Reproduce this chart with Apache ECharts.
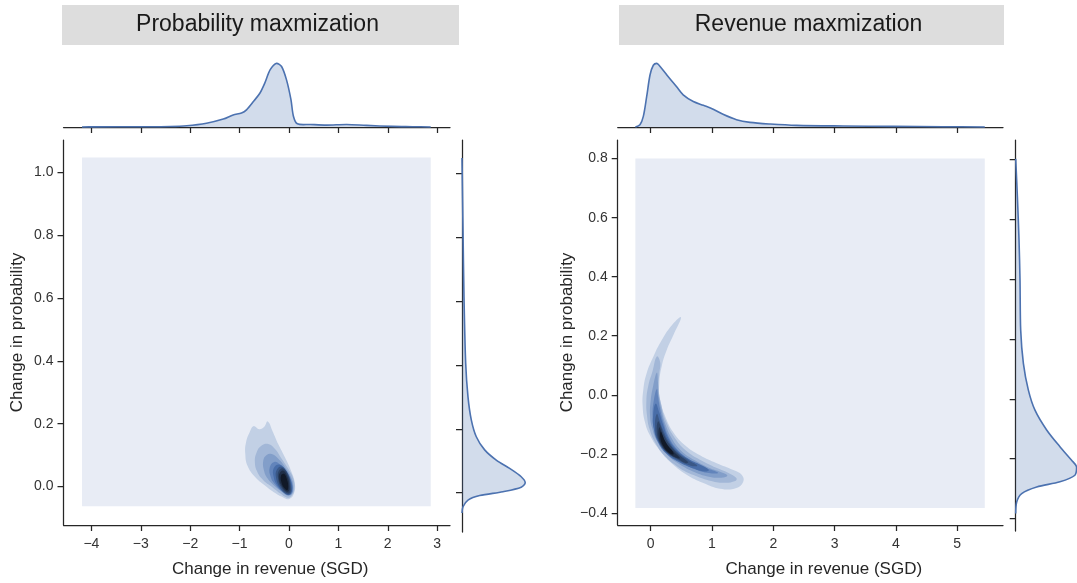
<!DOCTYPE html>
<html><head><meta charset="utf-8">
<script src="https://cdn.jsdelivr.net/npm/echarts@6/dist/echarts.min.js"></script>
<style>html,body{margin:0;padding:0;background:#fff}#c{width:1077px;height:583px}</style>
</head><body><div id="c"></div>
<script>
// ---------- text ----------
const panelTitles = ['Probability maxmization', 'Revenue maxmization'];
const xAxisTitle = 'Change in revenue (SGD)';
const yAxisTitle = 'Change in probability';

// ---------- ticks / axis limits ----------
const probXTicks = [-4, -3, -2, -1, 0, 1, 2, 3];
const probYTicks = [0, 0.2, 0.4, 0.6, 0.8, 1.0];
const revXTicks = [0, 1, 2, 3, 4, 5];
const revYTicks = [-0.4, -0.2, 0, 0.2, 0.4, 0.6, 0.8];
const probXRange = [-4.565, 3.26];
const probYRange = [-0.123, 1.104];
const revXRange = [-0.538, 5.747];
const revYRange = [-0.441, 0.863];

// ---------- KDE grid extent (lowest filled level) ----------
const probGridExtent = [[-4.19, -0.0635], [2.87, 1.048]];
const revGridExtent = [[-0.25, -0.383], [5.45, 0.80]];

// ---------- marginal KDEs ----------
// [revenue change, density]
const probRevenueKde = [[-4.19,0],[-3.94,0.002],[-3.0,0.004],[-2.4,0.008],[-2.07,0.02],[-1.67,0.06],[-1.33,0.125],[-1.13,0.19],[-0.96,0.22],[-0.86,0.27],[-0.72,0.40],[-0.59,0.53],[-0.49,0.69],[-0.38,0.90],[-0.25,1.0],[-0.15,0.95],[-0.05,0.74],[0.04,0.43],[0.09,0.17],[0.17,0.05],[0.43,0.04],[0.76,0.03],[1.17,0.04],[1.57,0.025],[2.1,0.01],[2.5,0.005],[2.87,0]];
const revRevenueKde = [[-0.25,0],[-0.175,0.036],[-0.12,0.167],[-0.065,0.48],[-0.01,0.82],[0.043,0.97],[0.098,1.0],[0.18,0.92],[0.287,0.79],[0.42,0.635],[0.53,0.505],[0.695,0.40],[0.86,0.34],[1.02,0.28],[1.18,0.20],[1.40,0.115],[1.62,0.073],[1.95,0.047],[2.38,0.026],[3.14,0.016],[3.96,0.01],[4.77,0.005],[5.45,0]];
// [probability change, density]
const probProbKde = [[1.048,0],[0.822,0.016],[0.613,0.032],[0.405,0.059],[0.30,0.096],[0.228,0.149],[0.175,0.229],[0.134,0.363],[0.102,0.549],[0.076,0.763],[0.050,0.949],[0.031,1.013],[0.017,0.949],[0.003,0.656],[-0.009,0.283],[-0.023,0.096],[-0.044,0.016],[-0.0635,0]];
const revProbKde = [[0.80,0],[0.674,0.027],[0.53,0.053],[0.396,0.069],[0.229,0.08],[0.118,0.123],[0.029,0.203],[-0.038,0.309],[-0.104,0.496],[-0.16,0.709],[-0.205,0.896],[-0.227,0.976],[-0.255,0.949],[-0.277,0.709],[-0.294,0.336],[-0.316,0.096],[-0.344,0.016],[-0.383,0]];

// ---------- bivariate KDE contour levels (outer -> inner), [revenue, probability] ----------
const probContours = [
  [[-0.72,0.192],[-0.6,0.182],[-0.5,0.19],[-0.43,0.207],[-0.33,0.175],[-0.216,0.134],[-0.08,0.092],[0.054,0.045],[0.12,0.008],[0.10,-0.023],[0.006,-0.04],[-0.115,-0.035],[-0.28,-0.021],[-0.486,0.003],[-0.69,0.031],[-0.84,0.066],[-0.885,0.105],[-0.87,0.14],[-0.79,0.175]],
  [[-0.654,0.109],[-0.553,0.130],[-0.419,0.135],[-0.283,0.119],[-0.148,0.088],[-0.014,0.056],[0.087,0.025],[0.107,-0.011],[0.04,-0.032],[-0.047,-0.035],[-0.18,-0.022],[-0.35,-0.001],[-0.52,0.02],[-0.64,0.046],[-0.69,0.077]],
  [[-0.52,0.0825],[-0.452,0.100],[-0.351,0.103],[-0.216,0.088],[-0.081,0.062],[0.040,0.030],[0.088,-0.001],[0.054,-0.025],[-0.034,-0.029],[-0.148,-0.017],[-0.297,0.002],[-0.432,0.025],[-0.506,0.051]],
  [[-0.39,0.06],[-0.3,0.078],[-0.18,0.07],[-0.05,0.048],[0.06,0.012],[0.07,-0.018],[-0.01,-0.028],[-0.14,-0.016],[-0.28,0.006],[-0.37,0.03]],
  [[-0.31,0.058],[-0.2,0.07],[-0.08,0.055],[0.04,0.018],[0.06,-0.014],[0.0,-0.027],[-0.12,-0.016],[-0.24,0.004],[-0.31,0.03]],
  [[-0.25,0.052],[-0.15,0.063],[-0.03,0.043],[0.045,0.004],[0.035,-0.022],[-0.06,-0.024],[-0.18,-0.005],[-0.26,0.026]],
  [[-0.21,0.048],[-0.12,0.057],[-0.02,0.036],[0.03,0.0],[0.015,-0.02],[-0.06,-0.02],[-0.16,-0.002],[-0.22,0.024]],
  [[-0.19,0.042],[-0.11,0.05],[-0.03,0.03],[0.01,0.0],[-0.01,-0.016],[-0.08,-0.013],[-0.16,0.005],[-0.2,0.022]],
  [[-0.16,0.035],[-0.1,0.04],[-0.04,0.022],[-0.015,0.0],[-0.035,-0.012],[-0.09,-0.006],[-0.15,0.012]]
];
const revContours = [
  [[0.494,0.263],[0.342,0.235],[0.179,0.185],[0.043,0.129],[-0.066,0.073],[-0.120,0.018],[-0.131,-0.038],[-0.093,-0.093],[-0.011,-0.138],[0.125,-0.182],[0.315,-0.227],[0.587,-0.271],[0.859,-0.299],[1.13,-0.318],[1.40,-0.316],[1.511,-0.294],[1.484,-0.271],[1.348,-0.255],[1.076,-0.232],[0.804,-0.205],[0.559,-0.171],[0.369,-0.127],[0.233,-0.071],[0.152,-0.015],[0.141,0.040],[0.179,0.096],[0.260,0.151],[0.380,0.207]],
  [[0.10,0.13],[0.03,0.08],[-0.04,0.03],[-0.07,-0.02],[-0.06,-0.07],[-0.02,-0.115],[0.07,-0.16],[0.22,-0.205],[0.45,-0.245],[0.7,-0.272],[0.95,-0.29],[1.2,-0.298],[1.38,-0.292],[1.40,-0.283],[1.3,-0.268],[1.1,-0.25],[0.85,-0.225],[0.6,-0.193],[0.4,-0.148],[0.25,-0.09],[0.17,-0.03],[0.13,0.02],[0.14,0.07],[0.155,0.11]],
  [[0.1,0.075],[0.04,0.03],[0.0,-0.02],[-0.01,-0.07],[0.02,-0.11],[0.1,-0.155],[0.25,-0.2],[0.47,-0.235],[0.72,-0.262],[0.97,-0.278],[1.18,-0.28],[1.25,-0.273],[1.15,-0.262],[0.95,-0.247],[0.72,-0.222],[0.5,-0.19],[0.35,-0.15],[0.24,-0.1],[0.17,-0.045],[0.13,0.0],[0.12,0.04]],
  [[0.1,0.02],[0.05,-0.02],[0.03,-0.07],[0.05,-0.11],[0.12,-0.15],[0.26,-0.192],[0.47,-0.225],[0.72,-0.252],[0.95,-0.265],[1.1,-0.265],[1.0,-0.255],[0.8,-0.24],[0.6,-0.215],[0.42,-0.182],[0.3,-0.145],[0.21,-0.095],[0.15,-0.045],[0.12,-0.005]],
  [[0.08,-0.03],[0.04,-0.07],[0.05,-0.115],[0.12,-0.16],[0.26,-0.2],[0.46,-0.228],[0.7,-0.25],[0.88,-0.26],[0.95,-0.255],[0.82,-0.238],[0.6,-0.215],[0.42,-0.185],[0.29,-0.148],[0.2,-0.1],[0.14,-0.06]],
  [[0.1,-0.065],[0.07,-0.105],[0.11,-0.15],[0.24,-0.19],[0.45,-0.222],[0.65,-0.24],[0.76,-0.24],[0.62,-0.222],[0.44,-0.195],[0.3,-0.16],[0.2,-0.118],[0.14,-0.085]],
  [[0.12,-0.09],[0.1,-0.125],[0.15,-0.163],[0.27,-0.196],[0.45,-0.218],[0.58,-0.232],[0.61,-0.228],[0.47,-0.205],[0.32,-0.172],[0.22,-0.138],[0.16,-0.105]],
  [[0.14,-0.11],[0.13,-0.14],[0.18,-0.17],[0.29,-0.197],[0.43,-0.214],[0.48,-0.215],[0.41,-0.2],[0.3,-0.176],[0.21,-0.147],[0.17,-0.122]],
  [[0.16,-0.125],[0.16,-0.15],[0.21,-0.175],[0.3,-0.196],[0.37,-0.202],[0.36,-0.192],[0.3,-0.178],[0.23,-0.155],[0.19,-0.135]]
];

// ---------- styles ----------
const levelColors = ['#E8ECF5','#C2D0E5','#A2B7D7','#829EC9','#6284BB','#486DA8','#3A5887','#2C4367','#1F2E47','#111927'];
const lineColor = '#4C72B0';
const fillColor = 'rgba(76,114,176,0.25)';
const spineColor = '#262626';
const FONT = '"Liberation Sans", Arial, sans-serif';

const fmtTick = (dec) => (v) => {
  const s = Math.abs(v).toFixed(dec);
  return (v < -1e-9 ? '\u2212' : '') + s;
};

const chart = echarts.init(document.getElementById('c'), null, {renderer: 'canvas'});

// marginal panel depth is 78px; the right-most one is cut by the page edge
const L = {
  p: {main: {left: 63.5, top: 140, width: 386.5, height: 392}, topM: {left: 63.5, top: 49, width: 386.5, height: 78}, rightM: {left: 462, top: 140, width: 78, height: 392}},
  r: {main: {left: 617.7, top: 140, width: 385.3, height: 391}, topM: {left: 617.7, top: 49, width: 385.3, height: 78}, rightM: {left: 1015.7, top: 140, width: 61.3, height: 391}}
};
const grids = [L.p.main, L.p.topM, L.p.rightM, L.r.main, L.r.topM, L.r.rightM];

const spine = {show: true, onZero: false, lineStyle: {color: spineColor, width: 1.25}};
function tick(values) { return {show: true, length: 6, inside: false, customValues: values, lineStyle: {color: spineColor, width: 1.25}}; }

function mainX(grid, range, ticks, dec) {
  return {type: 'value', gridIndex: grid, min: range[0], max: range[1], axisLine: spine, axisTick: tick(ticks),
    axisLabel: {show: true, customValues: ticks, formatter: fmtTick(dec), color: '#333', fontSize: 14, fontFamily: FONT, margin: 12},
    splitLine: {show: false}, name: xAxisTitle, nameLocation: 'middle', nameGap: 36,
    nameTextStyle: {color: '#262626', fontSize: 17, fontFamily: FONT, padding: [0, 0, 0, 27]}};
}
function mainY(grid, range, ticks, dec) {
  return {type: 'value', gridIndex: grid, min: range[0], max: range[1], axisLine: spine, axisTick: tick(ticks),
    axisLabel: {show: true, customValues: ticks, formatter: fmtTick(dec), color: '#333', fontSize: 14, fontFamily: FONT, margin: 10},
    splitLine: {show: false}, name: yAxisTitle, nameLocation: 'middle', nameGap: 38,
    nameTextStyle: {color: '#262626', fontSize: 17, fontFamily: FONT}};
}
function margAxis(grid, range, ticks) {
  return {type: 'value', gridIndex: grid, min: range[0], max: range[1], axisLine: spine, axisTick: tick(ticks),
    axisLabel: {show: false}, splitLine: {show: false}};
}
function hidden(grid, min, max) {
  return {type: 'value', gridIndex: grid, min: min, max: max, show: false};
}

const xAxes = [
  mainX(0, probXRange, probXTicks, 0),
  margAxis(1, probXRange, probXTicks),
  hidden(2, 0, 1.25),
  mainX(3, revXRange, revXTicks, 0),
  margAxis(4, revXRange, revXTicks),
  hidden(5, 0, 1.25 * 61.3 / 78)
];
const yAxes = [
  mainY(0, probYRange, probYTicks, 1),
  hidden(1, 0, 1.225),
  margAxis(2, probYRange, probYTicks),
  mainY(3, revYRange, revYTicks, 1),
  hidden(4, 0, 1.225),
  margAxis(5, revYRange, revYTicks)
];

function contourSeries(axisIdx, extent, levels) {
  const items = [[extent[0][0], extent[0][1], 0]].concat(levels.map((p, i) => [p[0][0], p[0][1], i + 1]));
  return {
    type: 'custom', xAxisIndex: axisIdx, yAxisIndex: axisIdx, silent: true, clip: true, z: 1,
    data: items,
    renderItem: function (params, api) {
      const i = api.value(2);
      if (i === 0) {
        const a = api.coord([extent[0][0], extent[1][1]]);
        const b = api.coord([extent[1][0], extent[0][1]]);
        return {type: 'rect', z2: 0, shape: {x: a[0], y: a[1], width: b[0] - a[0], height: b[1] - a[1]}, style: {fill: levelColors[0]}};
      }
      const pts = levels[i - 1].map(p => api.coord(p));
      return {type: 'polygon', z2: i, shape: {points: pts, smooth: 0.45}, style: {fill: levelColors[i]}};
    }
  };
}

function bbox(pts) {
  let x0 = Infinity, y0 = Infinity, x1 = -Infinity, y1 = -Infinity;
  pts.forEach(p => { x0 = Math.min(x0, p[0]); y0 = Math.min(y0, p[1]); x1 = Math.max(x1, p[0]); y1 = Math.max(y1, p[1]); });
  return [[x0, y0], [x1, y1]];
}

function marginalSeries(axisIdx, curve, vertical) {
  return {
    type: 'custom', xAxisIndex: axisIdx, yAxisIndex: axisIdx, silent: true, clip: false, z: 3,
    data: [[0, 0]],
    renderItem: function (params, api) {
      const toXY = p => vertical ? [p[1], p[0]] : [p[0], p[1]];
      const line = curve.map(p => api.coord(toXY(p)));
      const first = curve[0], last = curve[curve.length - 1];
      const base0 = api.coord(toXY([first[0], 0]));
      const base1 = api.coord(toXY([last[0], 0]));
      const poly = [base0].concat(line).concat([base1]);
      const box = bbox(poly);
      return {type: 'group', children: [
        {type: 'polygon', shape: {points: poly, smooth: 0.3, smoothConstraint: box}, style: {fill: fillColor}},
        {type: 'polyline', shape: {points: line, smooth: 0.3, smoothConstraint: box}, style: {stroke: lineColor, lineWidth: 1.6, fill: null}}
      ]};
    }
  };
}

function titleBox(x, w, text) {
  return {type: 'group', children: [
    {type: 'rect', shape: {x: x, y: 5, width: w, height: 40}, style: {fill: '#dddddd'}},
    {type: 'text', x: x + w / 2 - 3, y: 25, style: {text: text, fill: '#1a1a1a', font: '23px ' + FONT, textAlign: 'center', textVerticalAlign: 'middle'}}
  ]};
}

chart.setOption({
  animation: false,
  backgroundColor: '#ffffff',
  grid: grids.map(g => Object.assign({containLabel: false}, g)),
  xAxis: xAxes,
  yAxis: yAxes,
  graphic: [titleBox(62, 397, panelTitles[0]), titleBox(619, 385, panelTitles[1])],
  series: [
    contourSeries(0, probGridExtent, probContours),
    marginalSeries(1, probRevenueKde, false),
    marginalSeries(2, probProbKde, true),
    contourSeries(3, revGridExtent, revContours),
    marginalSeries(4, revRevenueKde, false),
    marginalSeries(5, revProbKde, true)
  ]
});
</script>
</body></html>
